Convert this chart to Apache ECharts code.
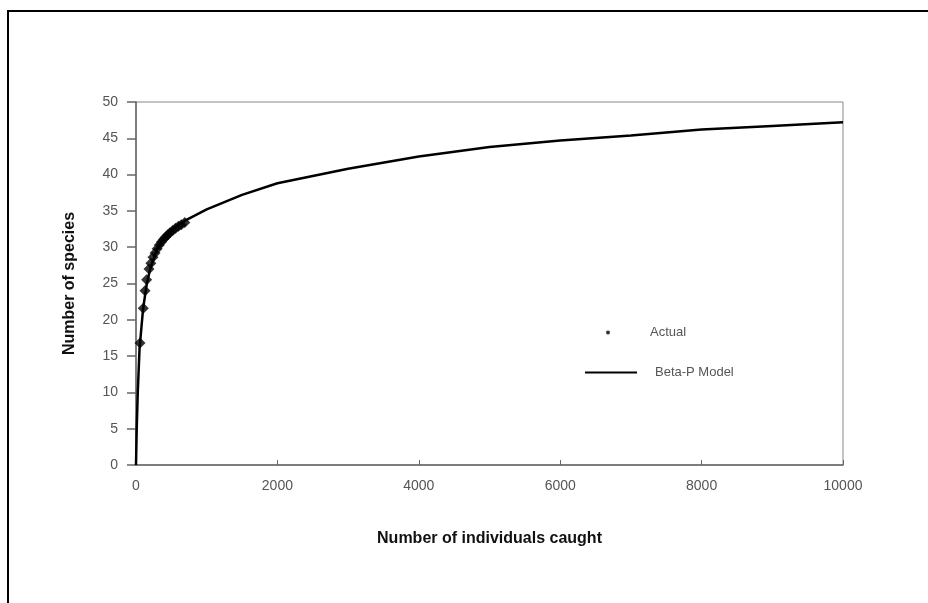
<!DOCTYPE html>
<html>
<head>
<meta charset="utf-8">
<script src="https://cdn.jsdelivr.net/npm/echarts@6/dist/echarts.min.js"></script>
<style>
  html, body { margin: 0; padding: 0; background: #fff; }
  #chart { width: 928px; height: 603px; }
</style>
</head>
<body>
<div id="chart"></div>
<script>
// observed catches (individuals, species)
const actualIndividuals = [57, 103, 127, 150, 184, 210, 240, 270, 300, 330, 360, 390, 420, 450, 480, 520, 560, 600, 640, 690]
const actualSpecies = [16.8, 21.6, 24.0, 25.5, 27.0, 27.8, 28.6, 29.2, 29.8, 30.3, 30.7, 31.1, 31.4, 31.7, 32.0, 32.3, 32.6, 32.9, 33.1, 33.4]

// Beta-P model curve
const modelIndividuals = [0, 10, 25, 50, 100, 150, 200, 300, 400, 500, 700, 1000, 1500, 2000, 3000, 4000, 5000, 6000, 7000, 8000, 9000, 10000]
const modelSpecies = [0, 5, 10, 16, 21.5, 24.8, 27, 29.8, 31.3, 32.3, 33.7, 35.2, 37.2, 38.8, 40.8, 42.5, 43.8, 44.7, 45.4, 46.2, 46.7, 47.2]

const xTicks = [0, 2000, 4000, 6000, 8000, 10000]

const chart = echarts.init(document.getElementById('chart'))

const tickLabel = {
  color: '#555',
  fontFamily: 'Liberation Sans',
  fontSize: 14
}

const legendFont = {
  color: '#555',
  fontFamily: 'Liberation Sans',
  fontSize: 13
}

const option = {
  backgroundColor: '#fff',
  animation: false,
  graphic: [
    {
      type: 'rect',
      shape: { x: 8, y: 11, width: 940, height: 620 },
      style: { fill: 'none', stroke: '#000', lineWidth: 2 },
      silent: true
    }
  ],
  grid: {
    left: 136,
    right: 85,
    top: 102,
    bottom: 138,
    show: true,
    borderColor: '#888',
    borderWidth: 1
  },
  legend: [
    {
      left: 601,
      top: 321,
      itemWidth: 52,
      itemHeight: 4,
      textStyle: Object.assign({ padding: [0, 0, 0, 11] }, legendFont),
      data: [{ name: 'Actual', icon: 'circle', itemStyle: { color: '#000' } }]
    },
    {
      left: 580,
      top: 361,
      itemWidth: 52,
      itemHeight: 2,
      textStyle: Object.assign({ padding: [0, 0, 0, 13] }, legendFont),
      data: [{ name: 'Beta-P Model', icon: 'rect', itemStyle: { color: '#000' } }]
    }
  ],
  xAxis: {
    type: 'value',
    min: 0,
    max: 10000,
    interval: 2000,
    name: 'Number of individuals caught',
    nameLocation: 'middle',
    nameGap: 66,
    nameTextStyle: {
      color: '#111',
      fontFamily: 'Liberation Sans',
      fontWeight: 'bold',
      fontSize: 16
    },
    axisLine: { lineStyle: { color: '#666', width: 1.5 } },
    axisTick: { inside: true, length: 5, lineStyle: { color: '#666' } },
    axisLabel: Object.assign({ margin: 14, formatter: v => xTicks.includes(v) ? String(v) : '' }, tickLabel),
    splitLine: { show: false }
  },
  yAxis: {
    type: 'value',
    min: 0,
    max: 50,
    interval: 5,
    name: 'Number of species',
    nameLocation: 'middle',
    nameGap: 58,
    nameTextStyle: {
      color: '#111',
      fontFamily: 'Liberation Sans',
      fontWeight: 'bold',
      fontSize: 16
    },
    axisLine: { show: true, lineStyle: { color: '#666', width: 1.5 } },
    axisTick: { show: true, length: 9, lineStyle: { color: '#666', width: 1.5 } },
    axisLabel: Object.assign({ margin: 18 }, tickLabel),
    splitLine: { show: false }
  },
  series: [
    {
      name: 'Beta-P Model',
      type: 'line',
      data: modelIndividuals.map((x, i) => [x, modelSpecies[i]]),
      showSymbol: false,
      symbol: 'none',
      smooth: false,
      lineStyle: { color: '#000', width: 2.5 },
      itemStyle: { color: '#000' },
      z: 2
    },
    {
      name: 'Actual',
      type: 'scatter',
      data: actualIndividuals.map((x, i) => [x, actualSpecies[i]]),
      symbol: 'diamond',
      symbolSize: 11,
      itemStyle: { color: '#000' },
      z: 3
    }
  ]
}

chart.setOption(option)
</script>
</body>
</html>
